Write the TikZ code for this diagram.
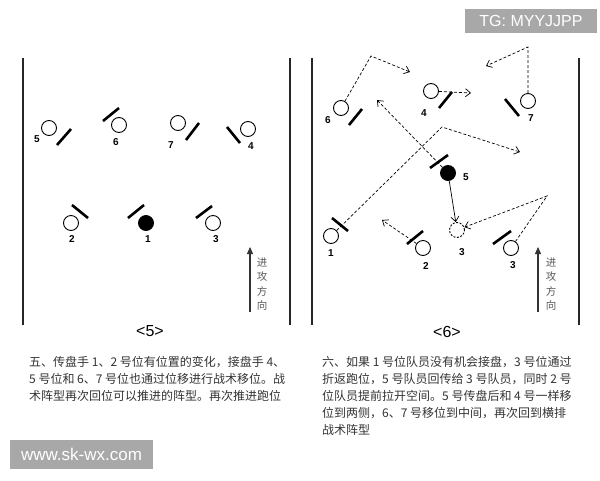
\documentclass[tikz,border=0pt]{standalone}
\usepackage{fontspec}
\setsansfont{Liberation Sans}
\newfontfamily\cjk{Noto Sans CJK SC}
\usetikzlibrary{arrows.meta}

\definecolor{inkgray}{HTML}{333333}
\definecolor{wmgray}{HTML}{A8A8A8}

\tikzset{
  player/.style={circle,draw,line width=0.9pt,minimum size=15pt,inner sep=0pt},
  ball/.style={player,fill=black},
  ghost/.style={player,dash pattern=on 2pt off 1.5pt},
  num/.style={font=\sffamily\bfseries\fontsize{10}{10}\selectfont,inner sep=0pt},
  guard/.style={line width=2.6pt,line cap=butt},
  sideline/.style={line width=1.8pt,draw=black!85},
  run/.style={line width=0.7pt,dash pattern=on 3pt off 2pt,-{Straight Barb[length=5pt,width=8pt]}},
  pass/.style={line width=0.7pt,-{Straight Barb[length=5pt,width=8pt]}},
  attack/.style={line width=1.2pt,draw=black!80,-{Triangle[length=7pt,width=6pt]}},
  attacktext/.style={font=\cjk\fontsize{10.5}{14.5}\selectfont,text=black!65,align=center,inner sep=0pt},
  paneltitle/.style={font=\sffamily\fontsize{16}{16}\selectfont,inner sep=0pt},
  note/.style={font=\cjk\fontsize{12}{17}\selectfont,text=inkgray,align=left,anchor=north west,inner sep=0pt},
  wm/.style={fill=wmgray,text=white,font=\sffamily,inner sep=0pt}
}

\begin{document}
\begin{tikzpicture}[x=1pt,y=-1pt]
\useasboundingbox (0,0) rectangle (600,480);

\draw[sideline] (23,58) -- (23,325);
\draw[sideline] (290,58) -- (290,325);
\draw[sideline] (312,58) -- (312,325);
\draw[sideline] (579,58) -- (579,325);

\node[player] (l5) at (49,128) {};
\node[num] (l5n) at (37,139) {5};
\draw[guard] (57,145) -- (71,129);
\node[player] (l6) at (119,125) {};
\node[num] (l6n) at (116,142) {6};
\draw[guard] (103,121) -- (119,108);
\node[player] (l7) at (178,123) {};
\node[num] (l7n) at (171,145) {7};
\draw[guard] (186,140) -- (199,123);
\node[player] (l4) at (248,129) {};
\node[num] (l4n) at (251,146) {4};
\draw[guard] (227,127) -- (240,143);
\node[player] (l2) at (71,223) {};
\node[num] (l2n) at (72,239) {2};
\draw[guard] (72,205) -- (88,218);
\node[ball] (l1) at (146,223) {};
\node[num] (l1n) at (148,239) {1};
\draw[guard] (128,218) -- (144,205);
\node[player] (l3) at (213,223) {};
\node[num] (l3n) at (216,239) {3};
\draw[guard] (196,218) -- (212,206);

\coordinate (la0) at (250,312);
\coordinate (la1) at (250,247);
\draw[attack] (la0) -- (la1);
\node[attacktext] (lat) at (262,284) {进\\攻\\方\\向};
\node[paneltitle] (t5) at (150,331) {<5>};

\node[player] (r6) at (341,108) {};
\node[num] (r6n) at (328,120) {6};
\draw[guard] (349,125) -- (362,109);
\node[player] (r4) at (431,91) {};
\node[num] (r4n) at (424,113) {4};
\draw[guard] (439,108) -- (452,92);
\node[player] (r7) at (528,101) {};
\node[num] (r7n) at (531,118) {7};
\draw[guard] (505,99) -- (519,116);
\node[ball] (r5) at (448,173) {};
\node[num] (r5n) at (466,177) {5};
\draw[guard] (430,168) -- (448,155);
\node[player] (r1) at (331,236) {};
\node[num] (r1n) at (331,253) {1};
\draw[guard] (332,218) -- (348,231);
\node[player] (r2) at (423,248) {};
\node[num] (r2n) at (426,266) {2};
\draw[guard] (407,244) -- (423,231);
\node[player] (r3) at (511,248) {};
\node[num] (r3n) at (513,265) {3};
\draw[guard] (493,244) -- (511,231);
\node[ghost] (r3g) at (457,230) {};
\node[num] (r3gn) at (462,252) {3};

\coordinate (r6a) at (371,56);
\coordinate (r6b) at (410,72);
\coordinate (r4a) at (471,93);
\coordinate (r7a) at (528,47);
\coordinate (r7b) at (486,66);
\coordinate (r5a) at (377,100);
\coordinate (r1a) at (442,127);
\coordinate (r1b) at (520,152);
\coordinate (r2a) at (382,220);
\coordinate (r3a) at (547,196);
\draw[run] (r6) -- (r6a) -- (r6b);
\draw[run] (r4) -- (r4a);
\draw[run] (r7) -- (r7a) -- (r7b);
\draw[run] (r5) -- (r5a);
\draw[run] (r1) -- (r1a) -- (r1b);
\draw[run] (r2) -- (r2a);
\draw[run] (r3) -- (r3a) -- (r3g);
\draw[pass] (r5) -- (r3g);

\coordinate (ra0) at (538,312);
\coordinate (ra1) at (538,247);
\draw[attack] (ra0) -- (ra1);
\node[attacktext] (rat) at (551,284) {进\\攻\\方\\向};
\node[paneltitle] (t6) at (447,332) {<6>};

\node[note] (txt5) at (29,356) {五、传盘手 1、2 号位有位置的变化，接盘手 4、\\5 号位和 6、7 号位也通过位移进行战术移位。战\\术阵型再次回位可以推进的阵型。再次推进跑位};
\node[note] (txt6) at (322,356) {六、如果 1 号位队员没有机会接盘，3 号位通过\\折返跑位，5 号队员回传给 3 号队员，同时 2 号\\位队员提前拉开空间。5 号传盘后和 4 号一样移\\位到两侧，6、7 号移位到中间，再次回到横排\\战术阵型};

\node[wm,minimum width=132pt,minimum height=24pt,font=\sffamily\fontsize{16}{16}\selectfont] (tg) at (531,21) {TG: MYYJJPP};
\node[wm,minimum width=143pt,minimum height=29pt,font=\sffamily\fontsize{17}{17}\selectfont] (site) at (81.5,454.5) {www.sk-wx.com};
\end{tikzpicture}
\end{document}
